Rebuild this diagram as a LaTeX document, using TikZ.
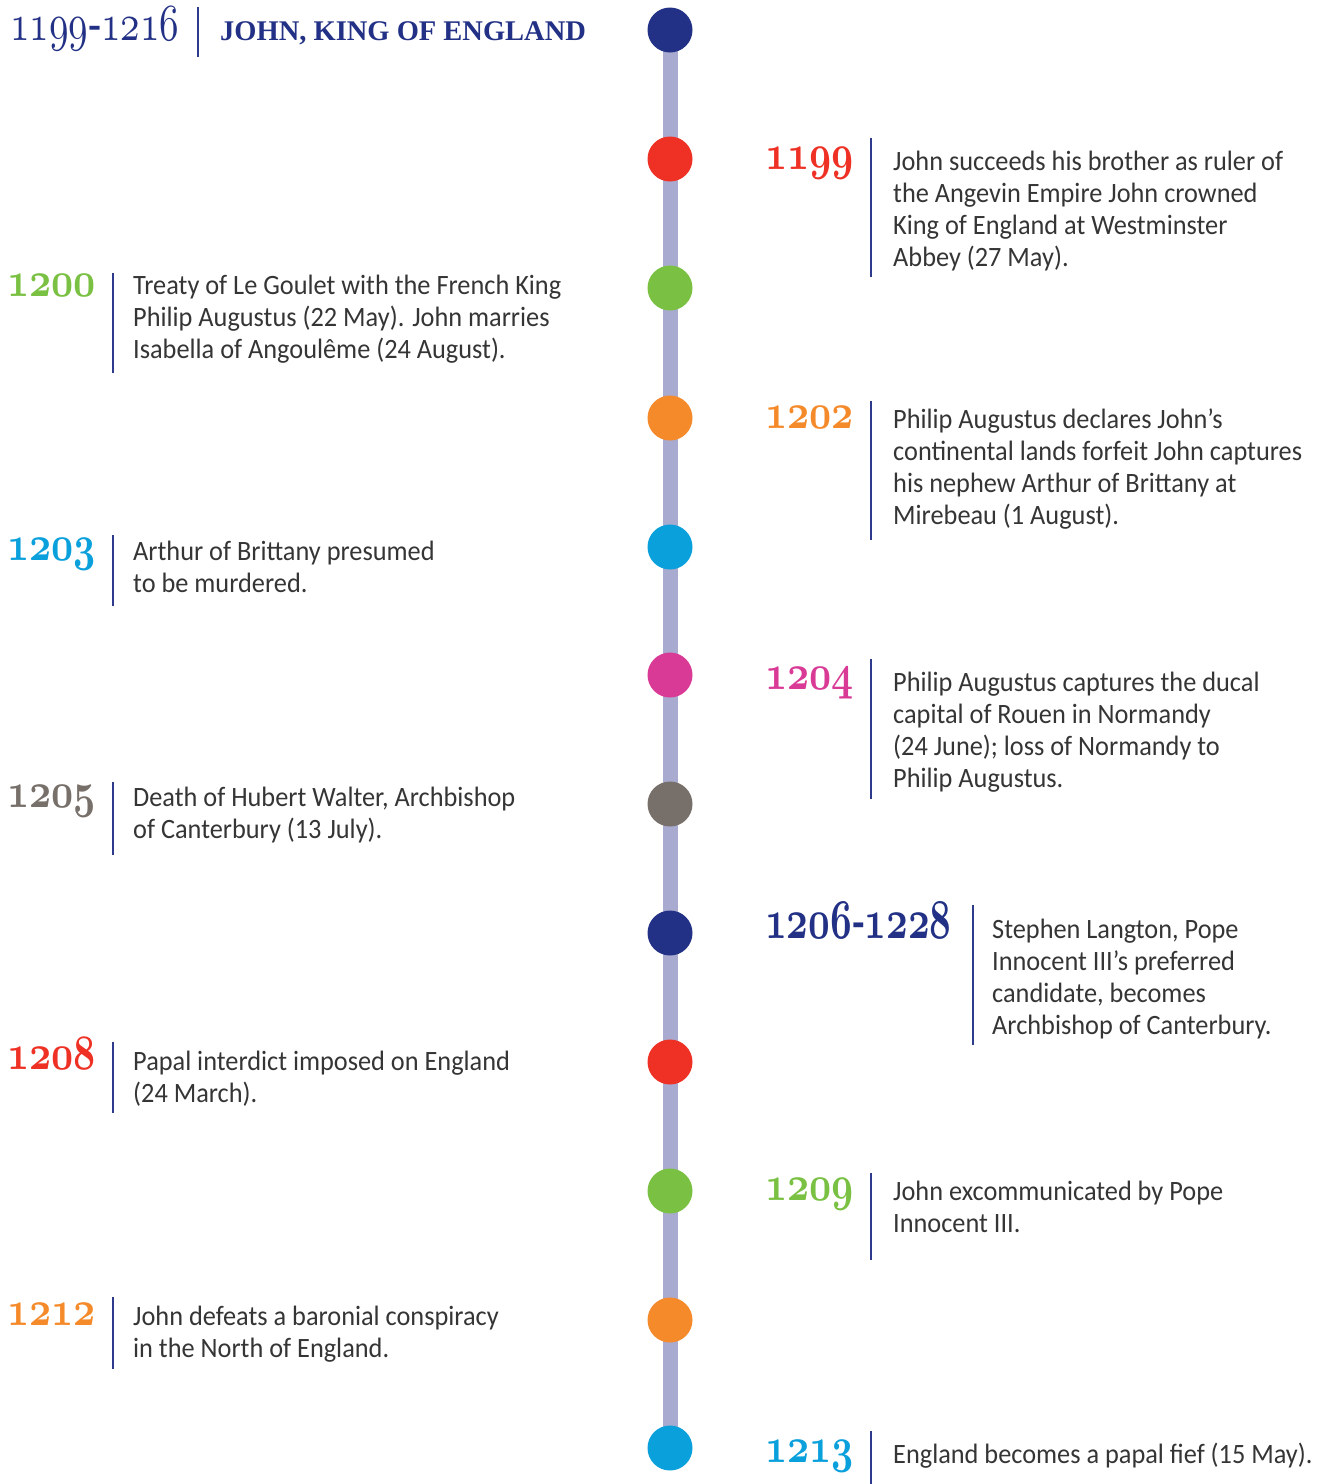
\documentclass[tikz,border=0pt]{standalone}
\usepackage{fontspec}
\usepackage{graphicx}
\setmainfont{Carlito}[FakeStretch=0.94]
\newfontfamily\titlefont{Liberation Serif}
\definecolor{navy}{HTML}{223185}
\definecolor{redc}{HTML}{EE3124}
\definecolor{greenc}{HTML}{7AC143}
\definecolor{orangec}{HTML}{F58A2B}
\definecolor{cyanc}{HTML}{0AA0DC}
\definecolor{magc}{HTML}{D93A96}
\definecolor{grayc}{HTML}{776F69}
\definecolor{spinec}{HTML}{A9AAD0}
\definecolor{sepc}{HTML}{2E3A8C}
\definecolor{bodyc}{HTML}{353535}
\newcommand\od[1]{{\fontencoding{OML}\fontfamily{cmm}\fontseries{m}\fontshape{it}\fontsize{10}{12}\selectfont #1}}
\newcommand\odb[1]{{\fontencoding{OML}\fontfamily{cmm}\fontseries{b}\fontshape{it}\fontsize{10}{12}\selectfont #1}}
\newcommand\hy{{\titlefont\fontsize{10}{12}\selectfont -}}
\newcommand\hyb{{\titlefont\bfseries\fontsize{10}{12}\selectfont -}}
\newcommand\yrs[1]{\scalebox{3.85}[4.95]{\odb{#1}}}
\newcommand\lines[1]{\begin{tabular}[t]{@{}l@{}}#1\end{tabular}}
\begin{document}
\begin{tikzpicture}[x=1pt,y=-1pt,
  dot/.style={circle, minimum size=45pt, inner sep=0pt},
  spine/.style={line width=15pt, draw=spinec},
  sepl/.style={line width=1.5pt, draw=sepc},
  yearl/.style={anchor=base east, inner sep=0pt},
  yearr/.style={anchor=base west, inner sep=0pt},
  body/.style={anchor=base west, inner sep=0pt, text=bodyc, font=\fontsize{28}{32}\selectfont}]
\useasboundingbox (0,0) rectangle (1330,1484);
% spine
\coordinate (stop) at (670,30);
\coordinate (sbot) at (670,1448);
\draw[spine] (stop) -- (sbot);
% dots
\node[dot, fill=navy]    (d0)  at (670,30) {};
\node[dot, fill=redc]    (d1)  at (670,159) {};
\node[dot, fill=greenc]  (d2)  at (670,288) {};
\node[dot, fill=orangec] (d3)  at (670,418) {};
\node[dot, fill=cyanc]   (d4)  at (670,547) {};
\node[dot, fill=magc]    (d5)  at (670,675) {};
\node[dot, fill=grayc]   (d6)  at (670,804) {};
\node[dot, fill=navy]    (d7)  at (670,933) {};
\node[dot, fill=redc]    (d8)  at (670,1062) {};
\node[dot, fill=greenc]  (d9)  at (670,1191) {};
\node[dot, fill=orangec] (d10) at (670,1320) {};
\node[dot, fill=cyanc]   (d11) at (670,1448) {};
% title
\node[yearr, text=navy] (ty) at (10,40) {\scalebox{3.9}[5.2]{\od{1199}\hy\od{1216}}};
\draw[sepl] (198,7) -- (198,57);
\node[anchor=base west, inner sep=0pt, text=navy, font=\titlefont\bfseries\fontsize{28.5}{30}\selectfont] (tt) at (220,40) {JOHN, KING OF ENGLAND};
% 1199
\node[yearr, text=redc] (y1) at (765,169) {\yrs{1199}};
\draw[sepl] (871,138) -- (871,277);
\node[body] (t1) at (893,170) {\lines{John succeeds his brother as ruler of\\the Angevin Empire John crowned\\King of England at Westminster\\Abbey (27 May).}};
% 1200
\node[yearl, text=greenc] (y2) at (96,296) {\yrs{1200}};
\draw[sepl] (113,273) -- (113,373);
\node[body] (t2) at (133,294) {\lines{Treaty of Le Goulet with the French King\\Philip Augustus (22 May). John marries\\Isabella of Angoulême (24 August).}};
% 1202
\node[yearr, text=orangec] (y3) at (765,428) {\yrs{1202}};
\draw[sepl] (871,401) -- (871,540);
\node[body] (t3) at (893,428) {\lines{Philip Augustus declares John’s\\continental lands forfeit John captures\\his nephew Arthur of Brittany at\\Mirebeau (1 August).}};
% 1203
\node[yearl, text=cyanc] (y4) at (96,560) {\yrs{1203}};
\draw[sepl] (113,535) -- (113,606);
\node[body] (t4) at (133,560) {\lines{Arthur of Brittany presumed\\to be murdered.}};
% 1204
\node[yearr, text=magc] (y5) at (765,689) {\yrs{1204}};
\draw[sepl] (871,659) -- (871,799);
\node[body] (t5) at (893,691) {\lines{Philip Augustus captures the ducal\\capital of Rouen in Normandy\\(24 June); loss of Normandy to\\Philip Augustus.}};
% 1205
\node[yearl, text=grayc] (y6) at (96,807) {\yrs{1205}};
\draw[sepl] (113,782) -- (113,855);
\node[body] (t6) at (133,806) {\lines{Death of Hubert Walter, Archbishop\\of Canterbury (13 July).}};
% 1206-1228
\node[yearr, text=navy] (y7) at (765,938) {\scalebox{3.78}[5.6]{\odb{1206}\hyb\odb{1228}}};
\draw[sepl] (973,905) -- (973,1045);
\node[body] (t7) at (992,938) {\lines{Stephen Langton, Pope\\Innocent III’s preferred\\candidate, becomes\\Archbishop of Canterbury.}};
% 1208
\node[yearl, text=redc] (y8) at (96,1069) {\yrs{1208}};
\draw[sepl] (113,1042) -- (113,1113);
\node[body] (t8) at (133,1070) {\lines{Papal interdict imposed on England\\(24 March).}};
% 1209
\node[yearr, text=greenc] (y9) at (765,1200) {\yrs{1209}};
\draw[sepl] (871,1173) -- (871,1260);
\node[body] (t9) at (893,1200) {\lines{John excommunicated by Pope\\Innocent III.}};
% 1212
\node[yearl, text=orangec] (y10) at (96,1325) {\yrs{1212}};
\draw[sepl] (113,1297) -- (113,1369);
\node[body] (t10) at (133,1325) {\lines{John defeats a baronial conspiracy\\in the North of England.}};
% 1213
\node[yearr, text=cyanc] (y11) at (765,1462) {\yrs{1213}};
\draw[sepl] (871,1431) -- (871,1484);
\node[body] (t11) at (893,1463) {\lines{England becomes a papal fief (15 May).}};
\end{tikzpicture}
\end{document}
